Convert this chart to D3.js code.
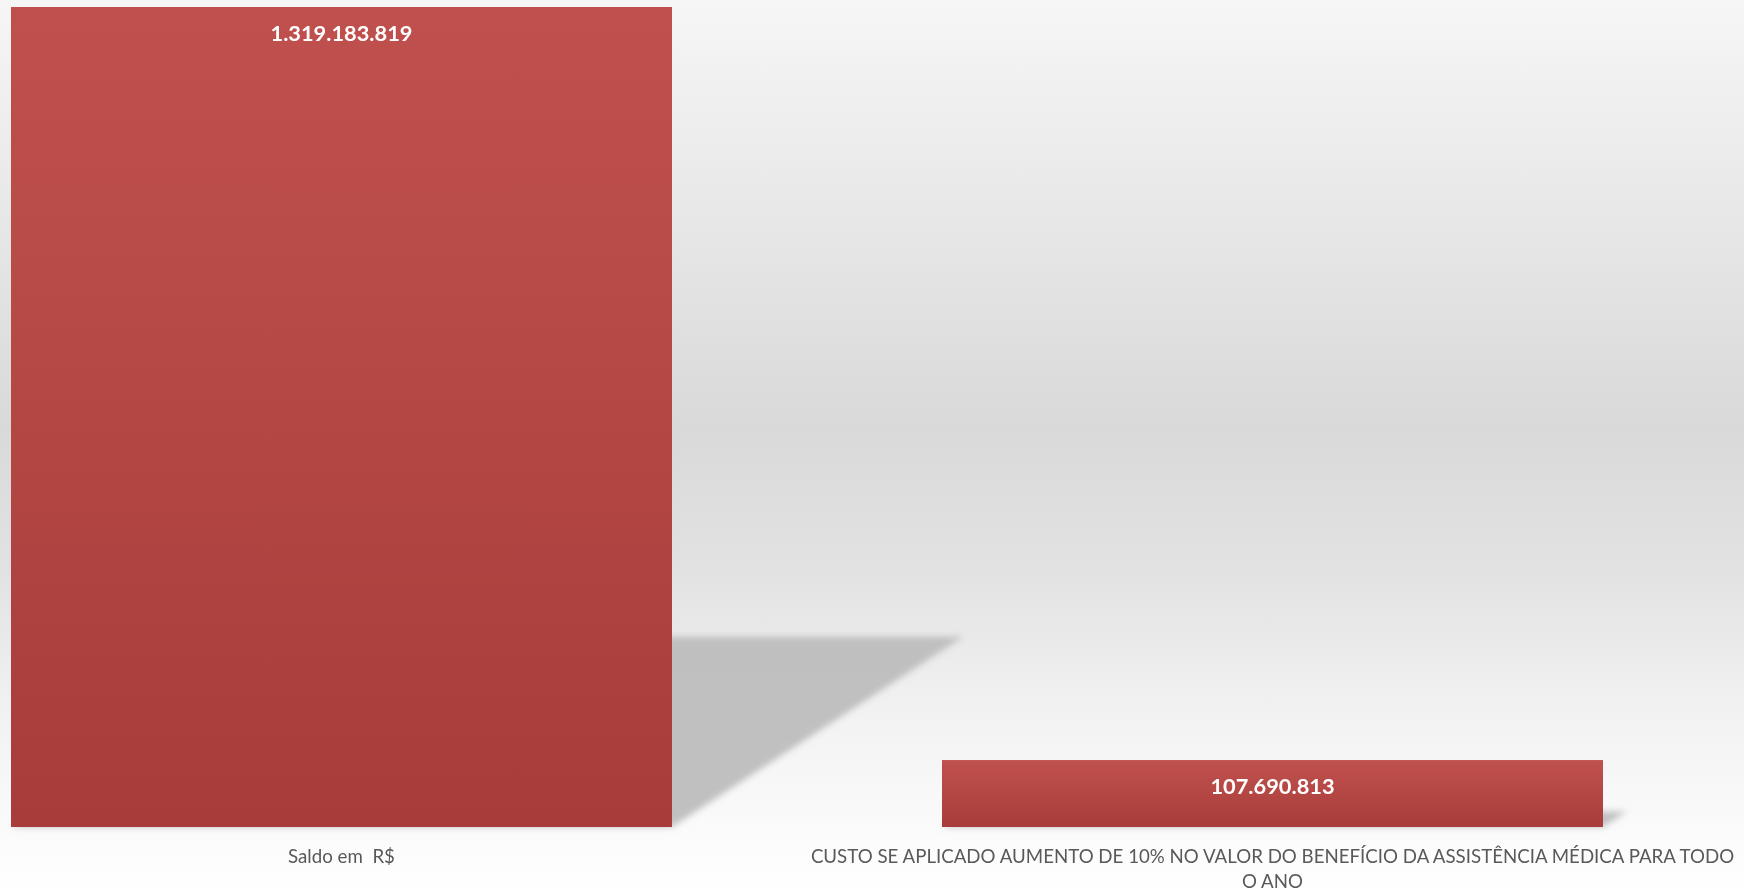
<!DOCTYPE html>
<html><head><meta charset="utf-8">
<script src="https://cdn.jsdelivr.net/npm/d3@7"></script>
<style>html,body{margin:0;padding:0;background:#fff;}svg{display:block;}</style>
</head><body>
<svg id="chart" width="1744" height="892"></svg>
<script>
const categories = ["Saldo em  R$", "CUSTO SE APLICADO AUMENTO DE 10% NO VALOR DO BENEFÍCIO DA ASSISTÊNCIA MÉDICA PARA TODO O ANO"];
const values = [1319183819, 107690813];

const W = 1744, H = 892;
const svg = d3.select("#chart");
const defs = svg.append("defs");

const bg = defs.append("linearGradient").attr("id","bg").attr("x1",0).attr("y1",0).attr("x2",0).attr("y2",1);
[[0,"#f6f6f6"],[0.12,"#efefef"],[0.48,"#d9d9d9"],[0.64,"#e2e2e2"],[0.8,"#f2f2f2"],[0.92,"#fafafa"],[1,"#ffffff"]]
  .forEach(([o,c])=>bg.append("stop").attr("offset",o).attr("stop-color",c));
const bar = defs.append("linearGradient").attr("id","bar").attr("x1",0).attr("y1",0).attr("x2",0).attr("y2",1);
[[0,"#c0504d"],[0.5,"#b44744"],[1,"#a73c3a"]].forEach(([o,c])=>bar.append("stop").attr("offset",o).attr("stop-color",c));
const blur = defs.append("filter").attr("id","blur").attr("x","-10%").attr("y","-10%").attr("width","120%").attr("height","120%");
blur.append("feGaussianBlur").attr("stdDeviation",3);

svg.append("rect").attr("x",0).attr("y",0).attr("width",W).attr("height",H).attr("fill","url(#bg)");

const baseY = 827, topY = 7;
const maxV = d3.max(values);
const y = d3.scaleLinear().domain([0, maxV]).range([baseY, topY]);
const x = d3.scaleBand().domain(categories).range([-124, 1738]).paddingInner(0.29).paddingOuter(0.145);

const fmt = d3.formatLocale({decimal:",", thousands:".", grouping:[3], currency:["R$",""]}).format(",d");

// perspective shadows
const sx = 0.355, sy = 0.232;
svg.append("g").attr("filter","url(#blur)").selectAll("path").data(categories).join("path")
  .attr("d",(c,i)=>{
    const h = baseY - y(values[i]);
    const x0 = x(c), x1 = x(c)+x.bandwidth();
    const dx = h*sx, dy = h*sy;
    return `M${x0},${baseY}L${x1},${baseY}L${x1+dx},${baseY-dy}L${x0+dx},${baseY-dy}Z`;
  })
  .attr("fill","#bdbdbd").attr("opacity",0.95);

svg.append("g").selectAll("rect").data(categories).join("rect")
  .attr("x",c=>x(c)).attr("width",x.bandwidth())
  .attr("y",(c,i)=>y(values[i])).attr("height",(c,i)=>baseY-y(values[i]))
  .attr("fill","url(#bar)");

svg.append("g").selectAll("text").data(categories).join("text")
  .attr("x",c=>x(c)+x.bandwidth()/2)
  .attr("y",(c,i)=>y(values[i])+34)
  .attr("text-anchor","middle")
  .attr("font-family","Lato,'Open Sans',sans-serif")
  .attr("font-weight","bold").attr("font-size",21.8).attr("fill","#ffffff")
  .text((c,i)=>fmt(values[i]));

// category axis labels with wrapping
const labels = svg.append("g").selectAll("text").data(categories).join("text")
  .attr("text-anchor","middle")
  .attr("font-family","Lato,'Open Sans',sans-serif")
  .attr("font-size",18.7).attr("fill","#595959");
labels.each(function(c){
  const t = d3.select(this);
  const cx = x(c)+x.bandwidth()/2;
  const words = c.split(" ");
  let line = [], lines = [];
  const tmp = t.append("tspan");
  words.forEach(w=>{
    const test = line.concat([w]).join(" ");
    tmp.text(test);
    if (tmp.node().getComputedTextLength() > 935 && line.length){ lines.push(line.join(" ")); line=[w]; }
    else line.push(w);
  });
  lines.push(line.join(" "));
  tmp.remove();
  lines.forEach((l,k)=>t.append("tspan").attr("x",cx).attr("y",863+k*25).style("white-space","pre").text(l));
});
</script>
</body></html>
